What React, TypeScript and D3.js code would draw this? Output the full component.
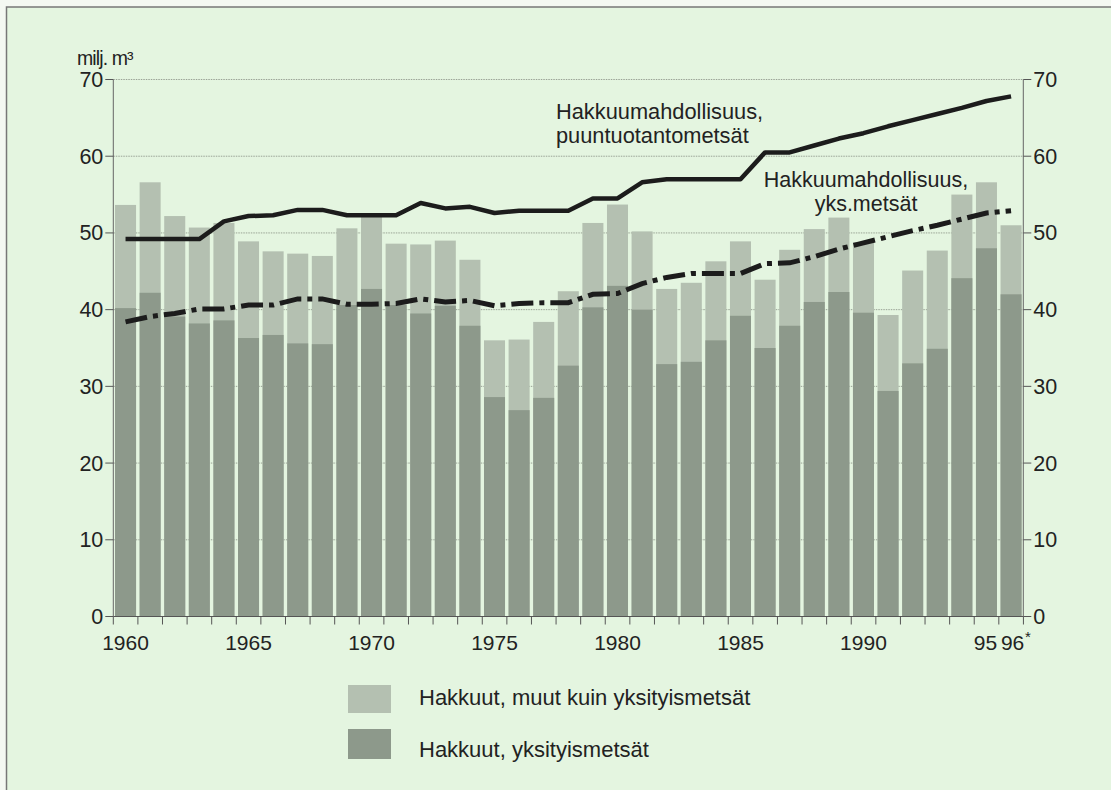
import React from "react";
import * as d3 from "d3";

const years = d3.range(1960, 1997);
const privateCuts = [40.2, 42.2, 39.1, 38.2, 38.6, 36.3, 36.7, 35.6, 35.5, 40.6, 42.7, 40.6, 39.5, 40.5, 37.9, 28.6, 26.9, 28.5, 32.7, 40.3, 43.1, 40.0, 32.9, 33.2, 36.0, 39.2, 35.0, 37.9, 41.0, 42.3, 39.6, 29.4, 33.0, 34.9, 44.1, 48.0, 42.0];
const totalCuts = [53.65, 56.6, 52.2, 50.7, 51.3, 48.9, 47.6, 47.3, 47.0, 50.6, 52.4, 48.6, 48.5, 49.0, 46.5, 36.0, 36.1, 38.4, 42.4, 51.3, 53.7, 50.2, 42.7, 43.5, 46.3, 48.9, 43.9, 47.8, 50.5, 52.0, 48.8, 39.3, 45.1, 47.7, 55.0, 56.6, 51.0];
const potentialProduction = [49.2, 49.2, 49.2, 49.2, 51.5, 52.2, 52.3, 53.0, 53.0, 52.3, 52.3, 52.3, 53.9, 53.2, 53.4, 52.6, 52.9, 52.9, 52.9, 54.5, 54.5, 56.6, 57.0, 57.0, 57.0, 57.0, 60.5, 60.5, 61.4, 62.3, 63.0, 63.9, 64.7, 65.5, 66.3, 67.2, 67.8];
const potentialPrivate = [38.4, 39.1, 39.5, 40.1, 40.1, 40.6, 40.6, 41.4, 41.4, 40.7, 40.7, 40.8, 41.4, 41.0, 41.2, 40.5, 40.8, 40.9, 40.9, 42.0, 42.1, 43.4, 44.2, 44.7, 44.7, 44.7, 46.0, 46.1, 46.9, 47.9, 48.7, 49.5, 50.3, 51.0, 51.8, 52.6, 52.9];
const yTicks = [0, 10, 20, 30, 40, 50, 60, 70];
const xLabelYears = [1960, 1965, 1970, 1975, 1980, 1985, 1990, 1995, 1996];
const xLabelTexts = ["1960", "1965", "1970", "1975", "1980", "1985", "1990", "95", "96"];
const legendLabels = ["Hakkuut, muut kuin yksityismetsät", "Hakkuut, yksityismetsät"];

const BG = "#e4f5e0";
const LIGHT = "#b4c0b1";
const DARK = "#8d998b";
const TEXT = "#222";
const FONT = "'Liberation Sans', Arial, Helvetica, sans-serif";

export default function App() {
  const left = 113.3;
  const right = 1023.3;
  const y0 = 616.5;
  const y70 = 79.5;

  const x = d3.scaleBand<number>().domain(years).range([left, right]).paddingInner(0.145).paddingOuter(0.07);
  const step = x.step();
  const y = d3.scaleLinear().domain([0, 70]).range([y0, y70]);
  const cx = (yr: number) => (x(yr) as number) + x.bandwidth() / 2;

  const line = d3.line<number>().x((_, i) => cx(years[i])).y((v) => y(v)).curve(d3.curveLinear);

  const boundaries = d3.range(years.length + 1).map((i) => left + i * step);
  const labelShift = (yr: number) => (yr === 1995 ? -1 : yr === 1996 ? 1.5 : 0);

  return (
    <svg width={1111} height={790} style={{ position: "absolute", left: 0, top: 0, fontFamily: FONT }}>
      <rect x={0} y={0} width={1111} height={790} fill="#f4f8f2" />
      <rect x={6.5} y={7} width={1111} height={790} fill={BG} stroke="#777" strokeWidth={1.5} />

      {/* gridlines */}
      {yTicks.filter((t) => t > 0).map((t) => (
        <line key={"g" + t} x1={left} x2={right} y1={y(t)} y2={y(t)} stroke="#9aa396" strokeWidth={1} strokeDasharray="1.5 1" />
      ))}

      {/* bars */}
      {years.map((yr, i) => (
        <g key={"b" + yr}>
          <rect x={x(yr)} width={x.bandwidth()} y={y(totalCuts[i])} height={y(0) - y(totalCuts[i])} fill={LIGHT} />
          <rect x={x(yr)} width={x.bandwidth()} y={y(privateCuts[i])} height={y(0) - y(privateCuts[i])} fill={DARK} />
        </g>
      ))}

      {/* lines */}
      <path d={line(potentialProduction) || ""} fill="none" stroke="#1c1c1c" strokeWidth={4.5} strokeLinejoin="round" />
      <path d={line(potentialPrivate) || ""} fill="none" stroke="#1c1c1c" strokeWidth={5} strokeDasharray="22 6 5 6" />

      {/* axes */}
      <line x1={left} x2={left} y1={y70} y2={y0} stroke="#666" strokeWidth={1} />
      <line x1={right} x2={right} y1={y70} y2={y0} stroke="#666" strokeWidth={1} />
      <line x1={left} x2={right} y1={y0} y2={y0} stroke="#555" strokeWidth={1.2} />
      {yTicks.map((t) => (
        <g key={"t" + t}>
          <line x1={left - 8} x2={left} y1={y(t)} y2={y(t)} stroke="#555" />
          <line x1={right} x2={right + 8} y1={y(t)} y2={y(t)} stroke="#555" />
          <text x={left - 10} y={y(t) + 7.5} textAnchor="end" fontSize={21.5} fill={TEXT}>{t}</text>
          <text x={right + 10} y={y(t) + 7.5} textAnchor="start" fontSize={21.5} fill={TEXT}>{t}</text>
        </g>
      ))}
      {boundaries.map((bx, i) => (
        <line key={"xt" + i} x1={bx} x2={bx} y1={y0} y2={y0 + 8} stroke="#555" />
      ))}
      {xLabelYears.map((yr, i) => (
        <text key={"xl" + yr} x={cx(yr) + labelShift(yr)} y={650} textAnchor="middle" fontSize={21} fill={TEXT}>
          {xLabelTexts[i]}
        </text>
      ))}
      <text x={cx(1996) + labelShift(1996) + 12.5} y={642} fontSize={15} fill={TEXT}>*</text>

      <text x={77} y={65} fontSize={19.5} letterSpacing={-0.9} fill={TEXT}>milj. m³</text>

      {/* annotations */}
      <text x={556} y={119} fontSize={21.8} fill={TEXT}>Hakkuumahdollisuus,</text>
      <text x={556} y={143} fontSize={21.8} fill={TEXT}>puuntuotantometsät</text>
      <text x={866} y={187} fontSize={21.5} fill={TEXT} textAnchor="middle">Hakkuumahdollisuus,</text>
      <text x={866} y={211} fontSize={21.5} fill={TEXT} textAnchor="middle">yks.metsät</text>

      {/* legend */}
      <rect x={348} y={685} width={43} height={28} fill={LIGHT} />
      <rect x={348} y={729} width={43} height={30} fill={DARK} />
      <text x={419} y={705} fontSize={22} fill={TEXT}>{legendLabels[0]}</text>
      <text x={419} y={757} fontSize={22} fill={TEXT}>{legendLabels[1]}</text>
    </svg>
  );
}
